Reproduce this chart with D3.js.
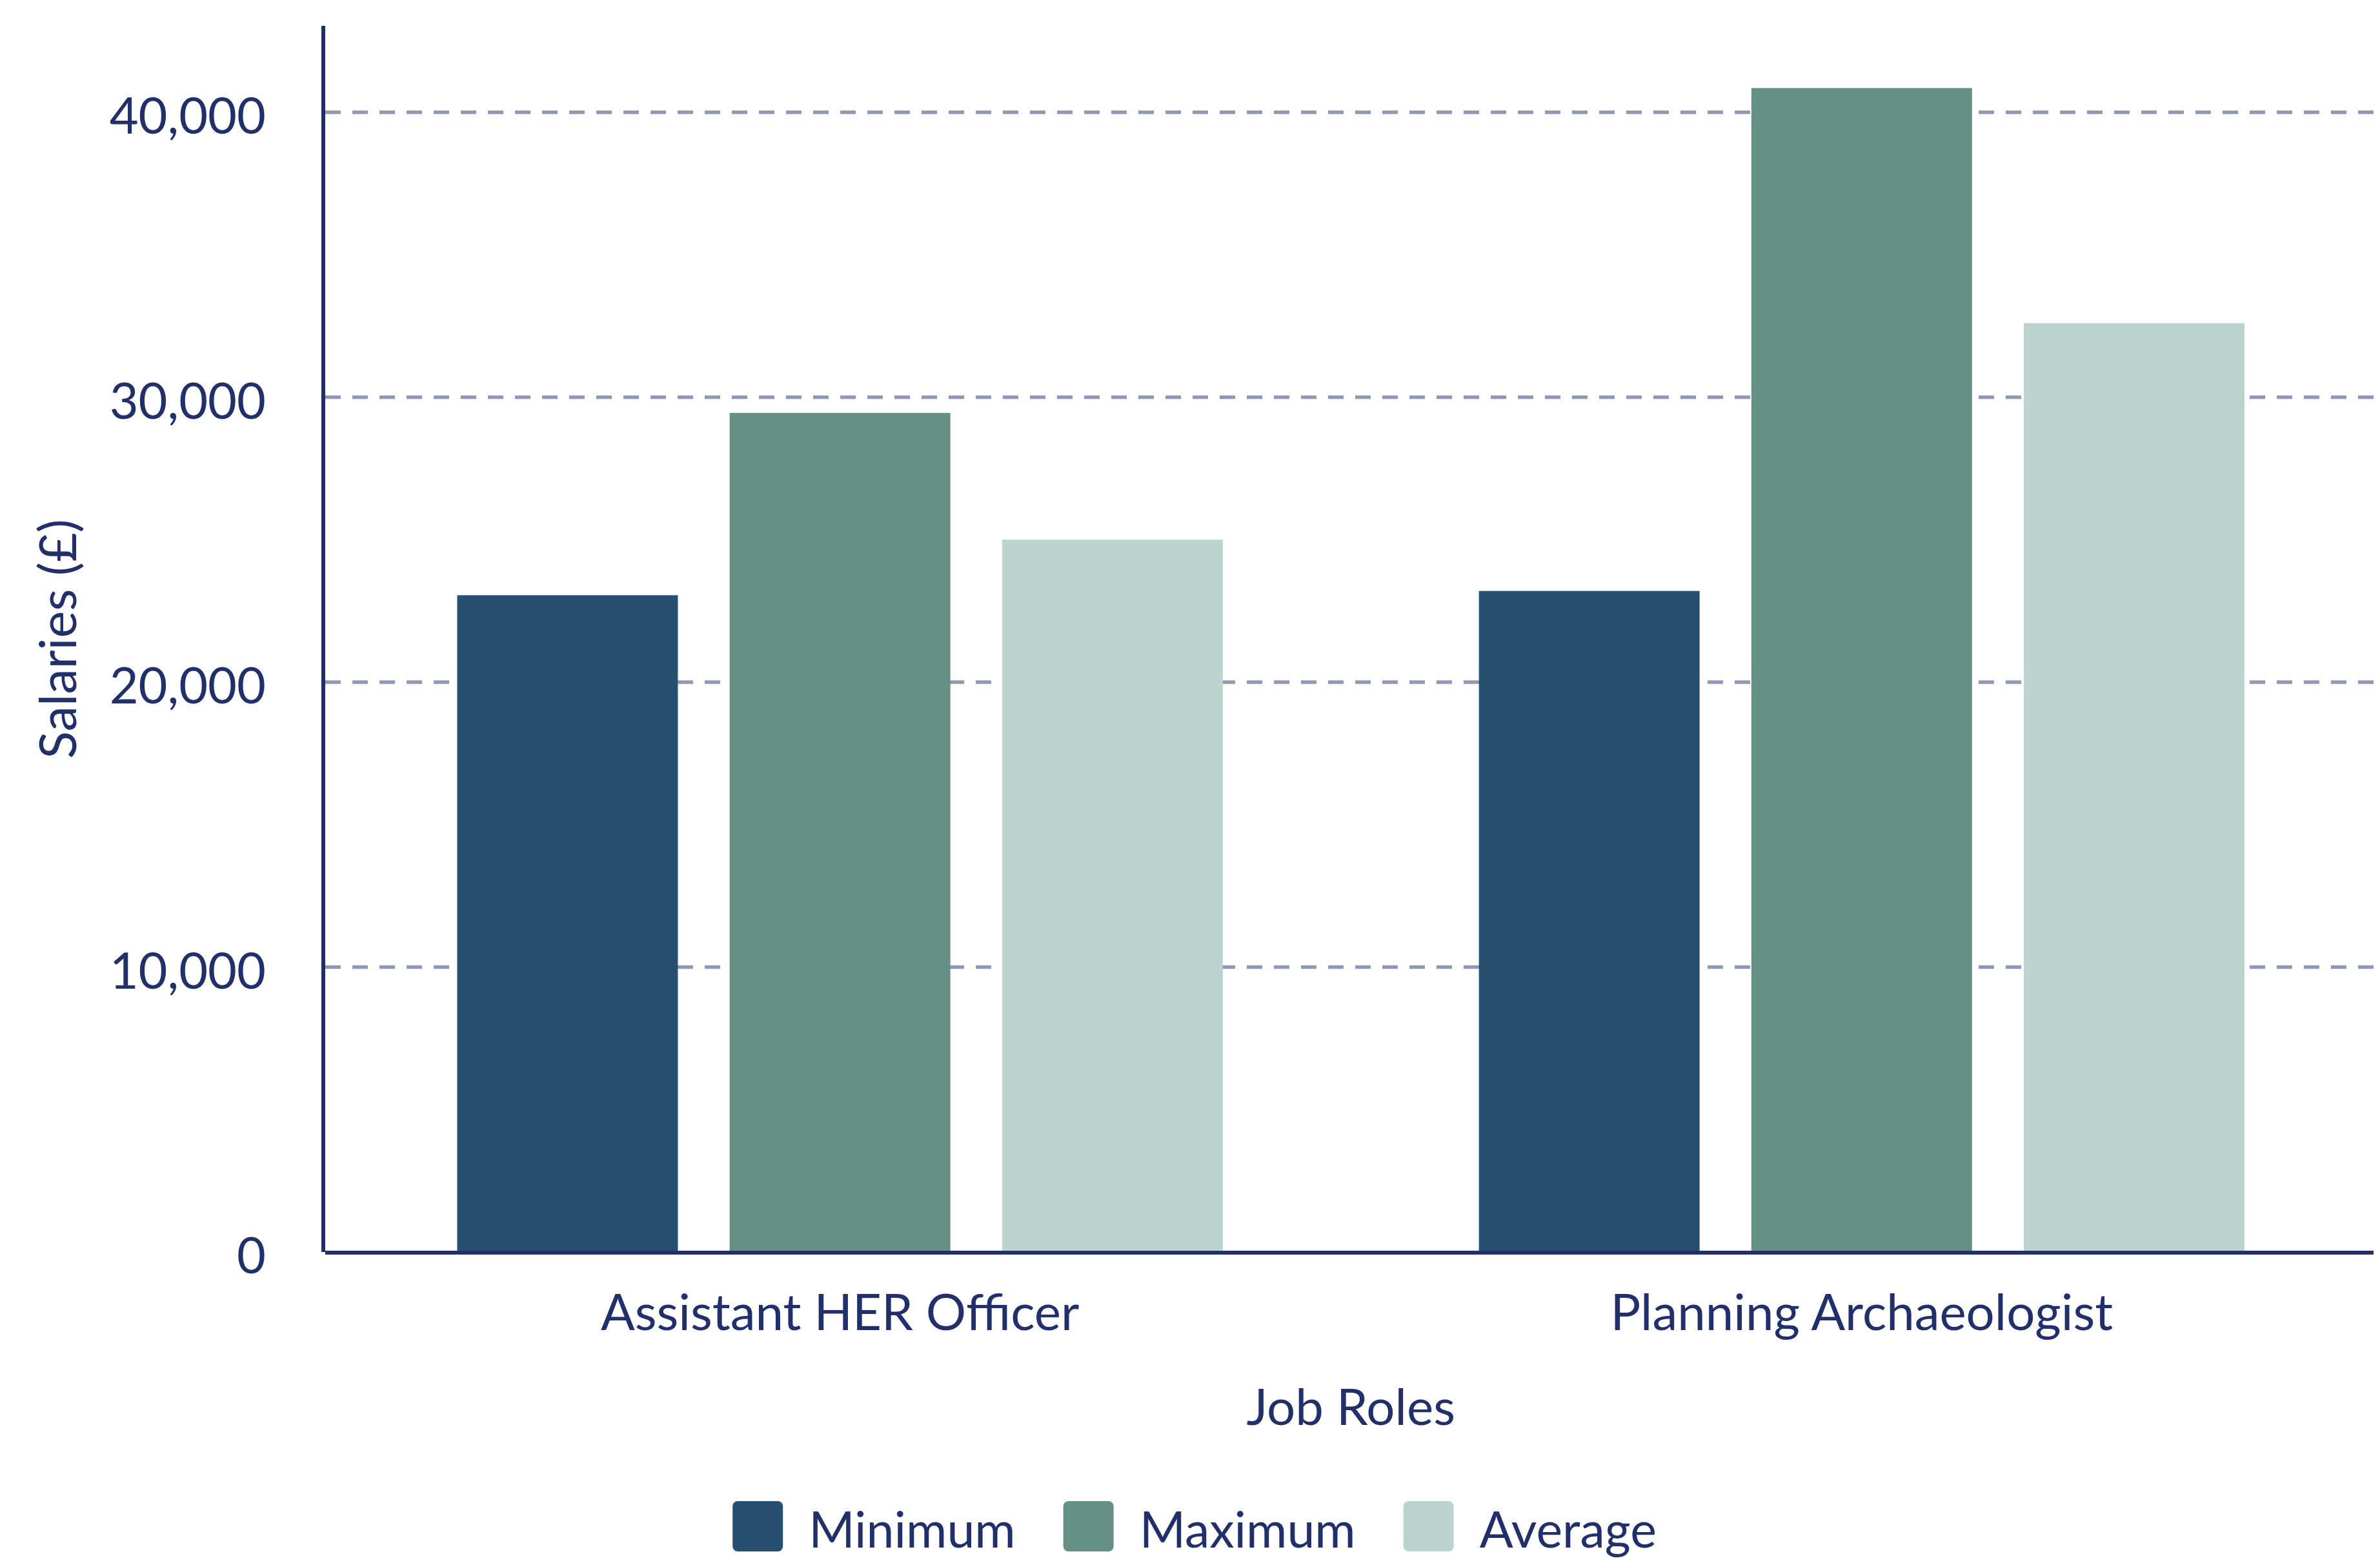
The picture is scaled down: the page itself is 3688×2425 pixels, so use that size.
<!DOCTYPE html>
<html>
<head>
<meta charset="utf-8">
<script src="https://cdn.jsdelivr.net/npm/d3@7"></script>
<style>
  html, body { margin: 0; padding: 0; background: #ffffff; }
  svg { display: block; }
  text { font-family: Lato, "Open Sans", sans-serif; fill: #21306a; }
</style>
</head>
<body>
<svg id="chart" width="3688" height="2425"></svg>
<script>
// ---- data ----
const categories = ["Assistant HER Officer", "Planning Archaeologist"];
const seriesNames = ["Minimum", "Maximum", "Average"];
const minimumValues = [23050, 23200];
const maximumValues = [29450, 40850];
const averageValues = [25000, 32600];
const yTickValues = [0, 10000, 20000, 30000, 40000];
const seriesColors = ["#274f70", "#679085", "#bbd4cd"];
const xAxisTitle = "Job Roles";
const yAxisTitle = "Salaries (£)";

const seriesValues = [minimumValues, maximumValues, averageValues];
const rows = categories.map((c, i) => ({
  category: c,
  values: seriesNames.map((s, j) => ({ series: s, value: seriesValues[j][i] }))
}));

// ---- layout ----
const W = 3688, H = 2425;
const plotLeft = 510, plotRight = 3676.5, plotBottom = 1940, plotTop = 41.5;
const axisX = 501;
const textColor = "#21306a";
const fontSize = 78;

const svg = d3.select("#chart");

const y = d3.scaleLinear().domain([0, 43000]).range([plotBottom, plotTop]);
const x0 = d3.scaleBand().domain(categories).range([plotLeft, plotRight]).padding(0);
const groupW = x0.bandwidth() * 0.8;
const x1 = d3.scaleBand().domain(seriesNames).range([0, groupW]).paddingInner(0.19).paddingOuter(0.095);
const color = d3.scaleOrdinal().domain(seriesNames).range(seriesColors);

// gridlines
const grid = svg.append("g").attr("class", "grid");
grid.selectAll("line")
  .data(yTickValues.filter(v => v > 0))
  .join("line")
  .attr("x1", axisX + 3).attr("x2", plotRight + 2)
  .attr("y1", d => y(d)).attr("y2", d => y(d))
  .attr("stroke", "#8e97b4")
  .attr("stroke-width", 5.5)
  .attr("stroke-dasharray", "24,18");

// bars
const groups = svg.append("g").selectAll("g")
  .data(rows)
  .join("g")
  .attr("transform", d => `translate(${x0(d.category) + (x0.bandwidth() - groupW) / 2},0)`);
groups.selectAll("rect")
  .data(d => d.values)
  .join("rect")
  .attr("x", d => x1(d.series))
  .attr("width", x1.bandwidth())
  .attr("y", d => y(d.value))
  .attr("height", d => y(0) - y(d.value))
  .attr("fill", d => color(d.series));

// y axis
const yAxis = d3.axisLeft(y).tickValues(yTickValues).tickSize(0).tickPadding(89)
  .tickFormat(d3.format(","));
const yg = svg.append("g").attr("transform", `translate(${axisX},0)`).call(yAxis);
yg.select(".domain").remove();
yg.selectAll("text")
  .attr("font-size", 77.5)
  .attr("font-family", "Lato, sans-serif")
  .attr("fill", textColor)
  .attr("dy", "0.42em");
svg.append("line")
  .attr("x1", axisX).attr("x2", axisX)
  .attr("y1", 40).attr("y2", plotBottom)
  .attr("stroke", textColor).attr("stroke-width", 6);

// x axis
const xAxis = d3.axisBottom(x0).tickSize(0).tickPadding(0);
const xg = svg.append("g").attr("transform", `translate(0,${plotBottom})`).call(xAxis);
xg.select(".domain").remove();
xg.selectAll("text")
  .attr("font-size", fontSize)
  .attr("font-family", "Lato, sans-serif")
  .attr("fill", textColor)
  .attr("dy", 0)
  .attr("y", 121);
svg.append("line")
  .attr("x1", axisX + 3).attr("x2", 3678)
  .attr("y1", plotBottom + 1).attr("y2", plotBottom + 1)
  .attr("stroke", textColor).attr("stroke-width", 6);

// axis titles
svg.append("text")
  .attr("x", (plotLeft + plotRight) / 2)
  .attr("y", 2208)
  .attr("text-anchor", "middle")
  .attr("font-size", fontSize)
  .text(xAxisTitle);

svg.append("text")
  .attr("transform", `translate(118,990) rotate(-90)`)
  .attr("text-anchor", "middle")
  .attr("font-size", 79)
  .text(yAxisTitle);

// legend
const legend = svg.append("g");
const sw = 78, gapText = 40, gapItem = 74, legendFont = 77;
const items = legend.selectAll("g").data(seriesNames).join("g");
items.append("rect")
  .attr("width", sw).attr("height", sw)
  .attr("rx", 8).attr("ry", 8)
  .attr("y", 2326)
  .attr("fill", d => color(d));
items.append("text")
  .attr("x", sw + gapText)
  .attr("y", 2398)
  .attr("font-size", legendFont)
  .text(d => d);
let widths = [];
items.each(function() {
  widths.push(sw + gapText + d3.select(this).select("text").node().getComputedTextLength());
});
const totalW = d3.sum(widths) + gapItem * (widths.length - 1);
let cx = 1851 - totalW / 2;
items.each(function(d, i) {
  d3.select(this).attr("transform", `translate(${cx},0)`);
  cx += widths[i] + gapItem;
});
</script>
</body>
</html>
